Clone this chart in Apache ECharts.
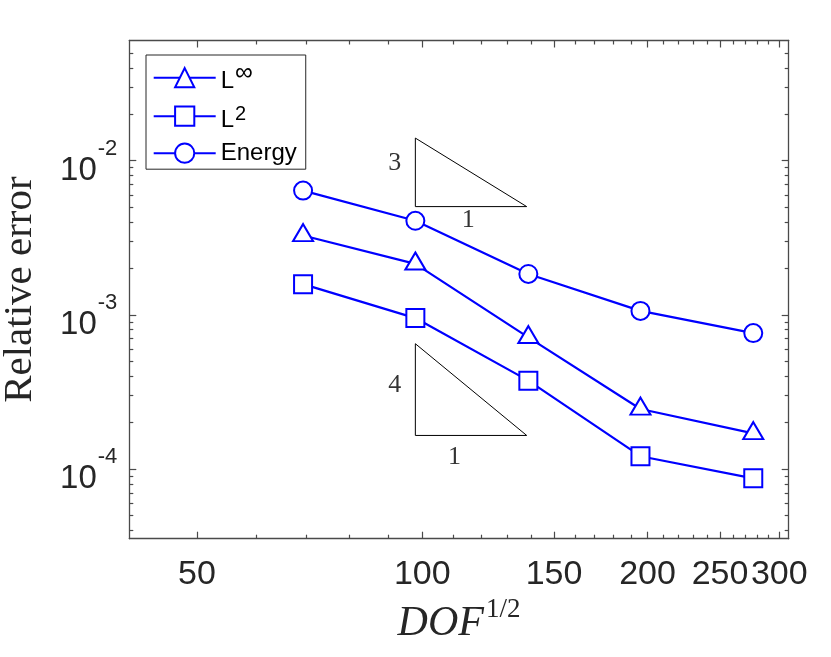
<!DOCTYPE html>
<html>
<head>
<meta charset="utf-8">
<script src="https://cdn.jsdelivr.net/npm/echarts@6/dist/echarts.min.js"></script>
<style>
  html, body { margin: 0; padding: 0; background: #fff; }
  #chart { width: 831px; height: 657px; }
</style>
</head>
<body>
<div id="chart"></div>
<script>
/* data */
const dofSqrt   = [69.3, 97.9, 138.6, 195.7, 276.9];
const errLinf   = [3.27e-3, 2.14e-3, 7.14e-4, 2.45e-4, 1.70e-4];
const errL2     = [1.58e-3, 9.52e-4, 3.74e-4, 1.21e-4, 8.69e-5];
const errEnergy = [6.39e-3, 4.07e-3, 1.84e-3, 1.06e-3, 7.61e-4];

/* slope triangles and their labels */
const slope3Tri = [[97.9, 1.40e-2], [97.9, 5.03e-3], [137.9, 5.03e-3], [97.9, 1.40e-2]];
const slope4Tri = [[97.9, 6.49e-4], [97.9, 1.65e-4], [137.9, 1.65e-4], [97.9, 6.49e-4]];
const slopeLabels = [[91.9, 9.62e-3, "3"], [115.2, 4.10e-3, "1"], [91.9, 3.48e-4, "4"], [110.4, 1.20e-4, "1"]];

/* ticks */
const xMajorTicks = [50, 100, 150, 200, 250, 300];
const xMinorTicks = [60, 70, 80, 90, 110, 120, 130, 140, 160, 170, 180, 190,
                     210, 220, 230, 240, 260, 270, 280, 290];
const yMajorTicks = [1e-4, 1e-3, 1e-2];
const yMinorTicks = [4e-5, 5e-5, 6e-5, 7e-5, 8e-5, 9e-5,
                     2e-4, 3e-4, 4e-4, 5e-4, 6e-4, 7e-4, 8e-4, 9e-4,
                     2e-3, 3e-3, 4e-3, 5e-3, 6e-3, 7e-3, 8e-3, 9e-3,
                     2e-2, 3e-2, 4e-2, 5e-2];

const X_MIN = 40.6, X_MAX = 308.8;
const Y_MIN = 3.53e-5, Y_MAX = 0.0601;

const AX = "#4a4a4a";
const TXT = "#262626";
const BLUE = "#0000ff";
const SANS = "'Liberation Sans', Arial, sans-serif";
const SERIF = "'Liberation Serif', 'Times New Roman', serif";

function pair(v) { return dofSqrt.map((x, i) => [x, v[i]]); }

/* one log axis used only for its line / ticks (box look of the reference) */
function tickAxis(dim, pos, ticks, len, withLine) {
  return {
    type: "log",
    position: pos,
    min: dim === "x" ? X_MIN : Y_MIN,
    max: dim === "x" ? X_MAX : Y_MAX,
    axisLine: { show: withLine, onZero: false, lineStyle: { color: AX, width: 1.3 } },
    axisTick: { show: true, inside: true, length: len, customValues: ticks,
                lineStyle: { color: AX, width: 1.2 } },
    axisLabel: { show: false },
    splitLine: { show: false },
    minorTick: { show: false }
  };
}

const xMain = tickAxis("x", "bottom", xMajorTicks, 7, true);
xMain.axisLabel = {
  show: true, customValues: xMajorTicks, margin: 19,
  color: TXT, fontFamily: SANS, fontSize: 34,
  formatter: v => String(Math.round(v))
};
xMain.name = "{i|DOF}{s|1/2}";
xMain.nameLocation = "middle";
xMain.nameGap = 61;
xMain.nameTextStyle = {
  color: TXT,
  rich: {
    i: { fontFamily: SERIF, fontStyle: "italic", fontSize: 42, lineHeight: 42, padding: [6, 0, 0, 0] },
    s: { fontFamily: SERIF, fontSize: 27, lineHeight: 27, padding: [0, 0, 21, 2] }
  }
};

const yMain = tickAxis("y", "left", yMajorTicks, 7, true);
yMain.axisLabel = {
  show: true, customValues: yMajorTicks, margin: 12,
  color: TXT, fontFamily: SANS,
  formatter: v => "{b|10}{s|" + Math.round(Math.log10(v)) + "}",
  rich: {
    b: { fontFamily: SANS, fontSize: 33, lineHeight: 32, padding: [20, 0, 0, 0], color: TXT },
    s: { fontFamily: SANS, fontSize: 22, lineHeight: 22, padding: [3, 0, 27, 1], color: TXT }
  }
};
yMain.name = "Relative error";
yMain.nameLocation = "middle";
yMain.nameGap = 89;
yMain.nameRotate = 90;
yMain.nameTextStyle = { color: TXT, fontFamily: SERIF, fontSize: 41 };

/* legend rows: every rich token is 32px tall so the rows stay even */
const legendRich = {
  m: { fontFamily: SANS, fontSize: 24, lineHeight: 24, padding: [8, 0, 0, 0], color: "#000" },
  e: { fontFamily: SANS, fontSize: 24, lineHeight: 24, padding: [4, 0, 4, 0], color: "#000" },
  p: { fontFamily: SANS, fontSize: 20, lineHeight: 20, padding: [4, 0, 8, 1], color: "#000" },
  q: { fontFamily: SANS, fontSize: 25, lineHeight: 22, padding: [0, 0, 10, 1], color: "#000" }
};

const option = {
  animation: false,
  backgroundColor: "#fff",
  grid: { left: 129.3, right: 42.3, top: 40.5, bottom: 118.3, containLabel: false, outerBoundsMode: "none" },
  legend: {
    data: ["Linf", "L2", "Energy"],
    orient: "vertical",
    left: 146, top: 55,
    padding: [5.2, 9, 0, 6.7],
    itemWidth: 62, itemHeight: 24, itemGap: 5,
    backgroundColor: "#fff",
    borderColor: TXT, borderWidth: 1, borderRadius: 0,
    formatter: n => n === "Linf" ? "{m|L}{q|\u221e}" : n === "L2" ? "{m|L}{p|2}" : "{e|Energy}",
    textStyle: { color: "#000", fontFamily: SANS, fontSize: 24, rich: legendRich }
  },
  xAxis: [
    xMain,
    tickAxis("x", "bottom", xMinorTicks, 4, false),
    tickAxis("x", "top", xMajorTicks, 7, true),
    tickAxis("x", "top", xMinorTicks, 4, false)
  ],
  yAxis: [
    yMain,
    tickAxis("y", "left", yMinorTicks, 4, false),
    tickAxis("y", "right", yMajorTicks, 7, true),
    tickAxis("y", "right", yMinorTicks, 4, false)
  ],
  series: [
    {
      name: "Linf", type: "line", data: pair(errLinf),
      symbol: "emptyTriangle", symbolSize: [20, 17], symbolOffset: [0, -2.8],
      lineStyle: { color: BLUE, width: 2.2 },
      itemStyle: { color: BLUE, borderColor: BLUE, borderWidth: 2 }, z: 3
    },
    {
      name: "L2", type: "line", data: pair(errL2),
      symbol: "emptyRect", symbolSize: 18,
      lineStyle: { color: BLUE, width: 2.2 },
      itemStyle: { color: BLUE, borderColor: BLUE, borderWidth: 2 }, z: 3
    },
    {
      name: "Energy", type: "line", data: pair(errEnergy),
      symbol: "emptyCircle", symbolSize: 18,
      lineStyle: { color: BLUE, width: 2.2 },
      itemStyle: { color: BLUE, borderColor: BLUE, borderWidth: 2 }, z: 3
    },
    {
      name: "slope3", type: "line", data: slope3Tri, symbol: "none", silent: true,
      lineStyle: { color: "#000", width: 1 }, z: 2
    },
    {
      name: "slope4", type: "line", data: slope4Tri, symbol: "none", silent: true,
      lineStyle: { color: "#000", width: 1 }, z: 2
    },
    {
      name: "slopeText", type: "scatter", data: slopeLabels, symbolSize: 0, silent: true,
      label: {
        show: true, position: "inside",
        formatter: p => p.data[2],
        color: "#000", fontFamily: SERIF, fontSize: 26
      }
    }
  ]
};

const chart = echarts.init(document.getElementById("chart"));
chart.setOption(option);
</script>
</body>
</html>
